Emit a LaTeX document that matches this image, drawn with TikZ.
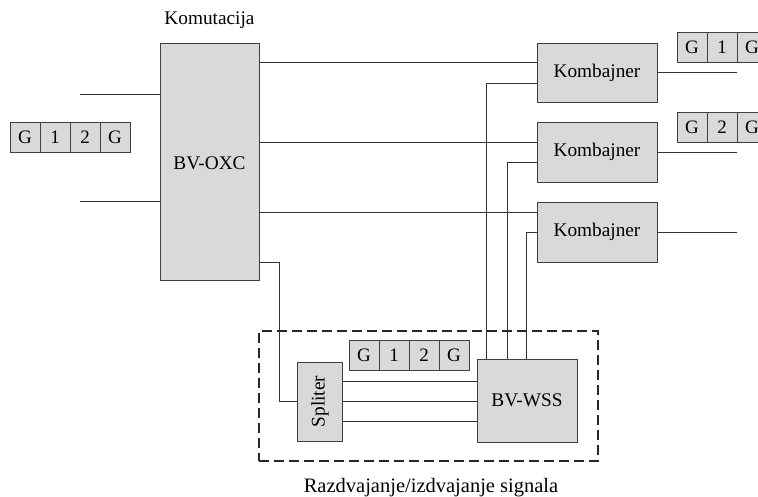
\documentclass[tikz,border=0pt]{standalone}
\usepackage{fontspec}
\setmainfont{Liberation Serif}
\begin{document}
\begin{tikzpicture}[x=1pt,y=-1pt,
  box/.style={draw=black!75,fill=black!15,line width=0.9pt,inner sep=0pt},
  cell/.style={box,minimum width=30pt,minimum height=30pt,font=\fontsize{19}{22}\selectfont},
  wire/.style={draw=black!80,line width=0.9pt},
  lbl/.style={font=\fontsize{19.3}{22}\selectfont,inner sep=0pt},
  frame/.style={draw=black!85,line width=1.4pt,dash pattern=on 10pt off 5pt}]
\useasboundingbox (0,0) rectangle (758,497);
\clip (0,0) rectangle (758,497);
% main boxes
\node[box,minimum width=99pt,minimum height=237pt] (oxc) at (209.5,161.5) {};
\node[lbl] (oxct) at (209.5,163) {BV-OXC};
\node[lbl] (kom) at (209.5,20) {Komutacija};
\node[box,minimum width=120pt,minimum height=59pt,lbl] (k1) at (597,72.5) {Kombajner};
\node[box,minimum width=120pt,minimum height=60pt,lbl] (k2) at (597,152) {Kombajner};
\node[box,minimum width=120pt,minimum height=60pt,lbl] (k3) at (597,232) {Kombajner};
\node[box,minimum width=45pt,minimum height=79pt] (sp) at (319.5,401.5) {};
\node[lbl,rotate=90] (spt) at (320,401.5) {Spliter};
\node[box,minimum width=100pt,minimum height=83pt,lbl] (wss) at (527,400.5) {BV-WSS};
% dashed frame
\node[frame,minimum width=339pt,minimum height=130pt,inner sep=0pt] (fr) at (428.5,396) {};
\node[lbl,font=\fontsize{20.5}{24}\selectfont] (frt) at (431,488) {Razdvajanje/izdvajanje signala};
% frames G12G
\foreach \n/\t [count=\i from 0] in {a/G,b/1,c/2,d/G}{
  \node[cell] (l\n) at (25+30*\i,137) {\t};
  \node[cell] (m\n) at (364+30*\i,355.5) {\t};
}
\foreach \n/\t [count=\i from 0] in {a/G,b/1,c/G}{
  \node[cell] (r\n) at (692+30*\i,47) {\t};
}
\foreach \n/\t [count=\i from 0] in {a/G,b/2,c/G}{
  \node[cell] (s\n) at (692+30*\i,127) {\t};
}
% input wires
\coordinate (in1) at (80,94);
\coordinate (in2) at (80,201);
\draw[wire] (in1) -- (in1 -| oxc.west);
\draw[wire] (in2) -- (in2 -| oxc.west);
% OXC to combiners
\draw[wire] ([yshift=10.5pt]k1.west) -- ([yshift=10.5pt]k1.west -| oxc.east);
\draw[wire] ([yshift=10pt]k2.west) -- ([yshift=10pt]k2.west -| oxc.east);
\draw[wire] ([yshift=20pt]k3.west) -- ([yshift=20pt]k3.west -| oxc.east);
% outputs
\coordinate (o1) at (737,72.5);
\coordinate (o2) at (737,152);
\coordinate (o3) at (737,232);
\draw[wire] (k1.east) -- (o1);
\draw[wire] (k2.east) -- (o2);
\draw[wire] (k3.east) -- (o3);
% WSS to combiners
\draw[wire] ([xshift=10pt]wss.north west) |- ([yshift=-10.5pt]k1.west);
\draw[wire] ([xshift=31pt]wss.north west) |- ([yshift=-10pt]k2.west);
\draw[wire] ([xshift=50pt]wss.north west) |- (k3.west);
% OXC to splitter
\coordinate (bend) at (279,262);
\draw[wire] (bend -| oxc.east) -- (bend) |- (sp.west);
% splitter to WSS
\draw[wire] ([yshift=20.5pt]sp.east) -- ([yshift=20.5pt]sp.east -| wss.west);
\draw[wire] ([yshift=0.5pt]sp.east) -- ([yshift=0.5pt]sp.east -| wss.west);
\draw[wire] ([yshift=-19.5pt]sp.east) -- ([yshift=-19.5pt]sp.east -| wss.west);
\end{tikzpicture}
\end{document}
